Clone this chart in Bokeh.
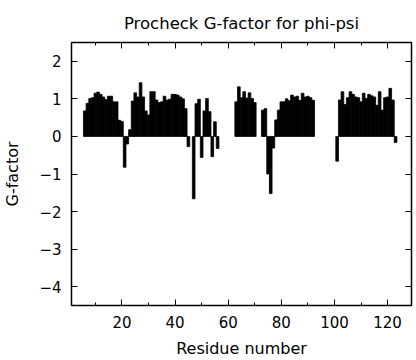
from bokeh.plotting import figure
from bokeh.models import Range1d, FixedTicker, LinearAxis
from bokeh.embed import file_html
from bokeh.resources import INLINE

# ---- data ----
residue = (list(range(6, 46)) + list(range(47, 57)) + list(range(63, 71))
           + list(range(73, 93)) + list(range(101, 124)))
g_factor = [
    # residues 6-45
    0.68, 0.88, 1.01, 1.03, 1.15, 1.18, 1.12, 1.05, 0.98, 1.07,
    1.07, 0.92, 0.92, 0.43, 0.40, -0.82, -0.20, 0.18, 0.94, 1.16,
    1.05, 1.43, 1.05, 0.68, 0.57, 1.19, 1.19, 0.97, 0.90, 0.92,
    1.07, 0.97, 0.99, 1.12, 1.12, 1.10, 1.05, 1.00, 0.74, -0.27,
    # residues 47-56
    -1.66, 0.87, 0.99, -0.56, 0.68, 1.01, 0.66, -0.54, 0.39, -0.32,
    # residues 63-70
    0.92, 1.32, 1.03, 1.19, 1.02, 1.16, 1.01, 0.90,
    # residues 73-92
    0.70, 0.74, -1.00, -1.52, -0.31, 0.44, 0.70, 0.92, 0.92, 1.00,
    0.95, 1.10, 1.05, 1.07, 0.96, 1.15, 1.05, 1.07, 1.03, 0.96,
    # residues 101-123
    -0.66, 0.97, 1.19, 0.85, 1.03, 1.19, 1.12, 1.05, 1.03, 0.92,
    1.15, 1.01, 1.12, 1.08, 1.05, 0.83, 1.19, 0.70, 1.03, 1.05,
    1.28, 0.97, -0.16,
]
x_major_ticks = [20, 40, 60, 80, 100, 120]
x_minor_ticks = [10, 20, 30, 40, 50, 60, 70, 80, 90, 100, 110, 120]
y_ticks = [-4, -3, -2, -1, 0, 1, 2]
title_text = "Procheck G-factor for phi-psi"
x_label = "Residue number"
y_label = "G-factor"

FONT = "DejaVu Sans"

p = figure(width=416, height=360, output_backend="svg", toolbar_location=None,
           x_range=Range1d(1, 129), y_range=Range1d(-4.5, 2.5),
           min_border_left=62, min_border_right=5, min_border_top=42,
           min_border_bottom=55, title=title_text)
p.background_fill_color = "white"
p.border_fill_color = "white"
p.outline_line_color = "black"
p.outline_line_width = 1.5
p.grid.visible = False

p.title.text_font = FONT
p.title.text_font_size = "16.5px"
p.title.text_font_style = "normal"
p.title.text_color = "black"
p.title.align = "center"
p.title.standoff = 19

p.vbar(x=residue, top=g_factor, bottom=0, width=1.0,
       fill_color="black", line_color="black", line_width=0.8)


def style(ax, show_labels):
    ax.axis_line_color = None
    ax.major_tick_line_color = "black"
    ax.minor_tick_line_color = "black"
    ax.major_tick_line_width = 1
    ax.minor_tick_line_width = 1
    ax.major_tick_in = 6
    ax.major_tick_out = 0
    ax.minor_tick_in = 3
    ax.minor_tick_out = 0
    if show_labels:
        ax.major_label_text_font = FONT
        ax.major_label_text_font_size = "15px"
        ax.major_label_text_color = "black"
        ax.axis_label_text_font = FONT
        ax.axis_label_text_font_size = "16px"
        ax.axis_label_text_font_style = "normal"
        ax.axis_label_text_color = "black"
    else:
        ax.major_label_text_font_size = "1px"
        ax.major_label_text_color = None
        ax.major_label_standoff = 0


xax = p.xaxis[0]
xax.ticker = FixedTicker(ticks=x_major_ticks, minor_ticks=x_minor_ticks)
xax.axis_label = x_label
style(xax, True)
xax.major_label_standoff = 10
xax.axis_label_standoff = 8

yax = p.yaxis[0]
yax.ticker = FixedTicker(ticks=y_ticks, minor_ticks=[])
yax.axis_label = y_label
style(yax, True)
yax.major_label_standoff = 10
yax.axis_label_standoff = 14

top_ax = LinearAxis(ticker=FixedTicker(ticks=x_major_ticks, minor_ticks=x_minor_ticks))
style(top_ax, False)
p.add_layout(top_ax, "above")

right_ax = LinearAxis(ticker=FixedTicker(ticks=y_ticks, minor_ticks=[]))
style(right_ax, False)
p.add_layout(right_ax, "right")

open("out.html", "w").write(file_html(p, INLINE))
